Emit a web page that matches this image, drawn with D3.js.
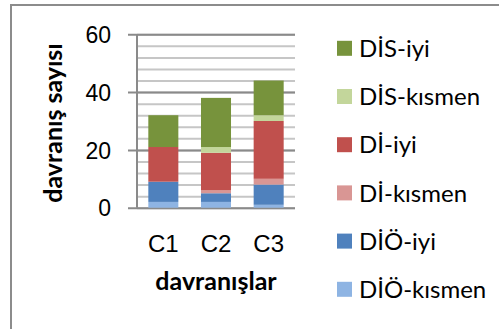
<!DOCTYPE html>
<html>
<head>
<meta charset="utf-8">
<script src="https://cdn.jsdelivr.net/npm/d3@7"></script>
<style>
  body { margin: 0; background: #fff; }
  svg { display: block; font-family: Lato, "Open Sans", sans-serif; }
</style>
</head>
<body>
<div id="chart"></div>
<script>
// categories and series (bottom of stack first)
const categories = ["C1", "C2", "C3"];
const seriesNames = ["DİÖ-kısmen", "DİÖ-iyi", "Dİ-kısmen", "Dİ-iyi", "DİS-kısmen", "DİS-iyi"];
const dioKismen = [2, 2, 1];
const dioIyi = [7, 3, 7];
const diKismen = [0, 1, 2];
const diIyi = [12, 13, 20];
const disKismen = [0, 2, 2];
const disIyi = [11, 17, 12];
const seriesColors = ["#8EB4E3", "#4F81BD", "#D99694", "#C0504D", "#C3D69B", "#77933C"];
const majorTicks = [0, 20, 40, 60];
const minorTicks = d3.range(0, 61, 4);

const seriesValues = [dioKismen, dioIyi, diKismen, diIyi, disKismen, disIyi];
const table = categories.map((c, i) => {
    const row = {cat: c};
    seriesNames.forEach((s, j) => row[s] = seriesValues[j][i]);
    return row;
});

const W = 499, H = 329;
const margin = {top: 34.3, left: 137, right: 204, bottom: 121.3};
const width = W - margin.left - margin.right;
const height = H - margin.top - margin.bottom;

const svg = d3.select("#chart").append("svg")
    .attr("width", W)
    .attr("height", H);

// outer chart border (runs off the right and bottom edges)
svg.append("rect")
    .attr("x", 11).attr("y", 5)
    .attr("width", 500).attr("height", 340)
    .attr("fill", "none")
    .attr("stroke", "#8c8c8c")
    .attr("stroke-width", 2);

const chart = svg.append("g")
    .attr("transform", `translate(${margin.left},${margin.top})`);

const x = d3.scaleBand().domain(categories).range([0, width]).paddingInner(0.43).paddingOuter(0.215);
const y = d3.scaleLinear().domain([0, 60]).range([height, 0]);

// minor gridlines
chart.append("g")
    .call(d3.axisLeft(y).tickValues(minorTicks).tickSize(-width).tickFormat(""))
    .call(g => g.select(".domain").remove())
    .call(g => g.selectAll("line").attr("stroke", "#c6c6c6").attr("stroke-width", 2));

// major gridlines with ticks + labels
chart.append("g")
    .call(d3.axisLeft(y).tickValues(majorTicks).tickSize(0).tickPadding(0).tickFormat(d3.format("d")))
    .call(g => g.select(".domain").remove())
    .call(g => g.selectAll("line")
        .attr("x1", -9).attr("x2", width)
        .attr("stroke", "#8a8a8a").attr("stroke-width", 2))
    .call(g => g.selectAll("text")
        .attr("x", -26)
        .attr("dy", "0.36em")
        .attr("fill", "#000")
        .attr("font-size", 23));

// stacked bars
const stacked = d3.stack().keys(seriesNames)(table);
chart.selectAll(".layer")
    .data(stacked)
    .join("g")
    .attr("class", "layer")
    .attr("fill", (d, i) => seriesColors[i])
    .selectAll("rect")
    .data(d => d)
    .join("rect")
    .attr("x", d => x(d.data.cat))
    .attr("width", x.bandwidth())
    .attr("y", d => y(d[1]))
    .attr("height", d => y(d[0]) - y(d[1]));

// y axis line
chart.append("line")
    .attr("x1", 0).attr("x2", 0)
    .attr("y1", 0).attr("y2", height)
    .attr("stroke", "#8a8a8a").attr("stroke-width", 2);

// x axis labels
chart.append("g")
    .attr("transform", `translate(0,${height})`)
    .call(d3.axisBottom(x).tickSize(0).tickPadding(0))
    .call(g => g.select(".domain").remove())
    .call(g => g.selectAll("text")
        .attr("y", 44)
        .attr("dy", 0)
        .attr("fill", "#000")
        .attr("font-size", 24));

// axis titles
svg.append("text")
    .attr("x", margin.left + width / 2)
    .attr("y", 290)
    .attr("text-anchor", "middle")
    .attr("font-weight", "bold")
    .attr("font-size", 25)
    .text("davranışlar");

svg.append("text")
    .attr("transform", `translate(62,123) rotate(-90)`)
    .attr("text-anchor", "middle")
    .attr("font-weight", "bold")
    .attr("font-size", 25)
    .text("davranış sayısı");

// legend (top item = top of stack)
const legend = svg.append("g")
    .attr("transform", "translate(337,0)");
const legendItems = seriesNames.map((s, i) => ({name: s, color: seriesColors[i]})).reverse();
const item = legend.selectAll(".item")
    .data(legendItems)
    .join("g")
    .attr("class", "item")
    .attr("transform", (d, i) => `translate(0,${48.3 + i * 48.2})`);
item.append("rect")
    .attr("x", 0).attr("y", -7.5)
    .attr("width", 15).attr("height", 15)
    .attr("fill", d => d.color);
item.append("text")
    .attr("x", 22)
    .attr("dy", "0.36em")
    .attr("font-size", 24)
    .text(d => d.name);
</script>
</body>
</html>
